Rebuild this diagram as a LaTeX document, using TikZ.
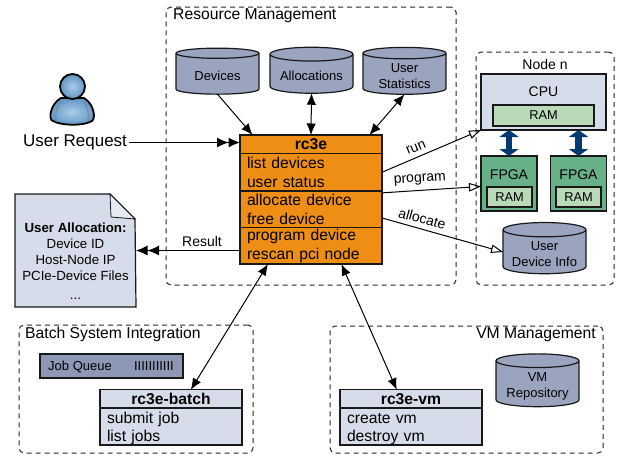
\documentclass[tikz,border=0pt]{standalone}
\usepackage{fontspec}
\setmainfont{Liberation Sans}
\usetikzlibrary{arrows.meta}
\usetikzlibrary{calc}
\usetikzlibrary{shapes.geometric}
\definecolor{dbblue}{HTML}{9AA4BF}
\definecolor{queueblue}{HTML}{8D97B6}
\definecolor{paleblue}{HTML}{D6DCE9}
\definecolor{rcorange}{HTML}{EE8E14}
\definecolor{fpgagreen}{HTML}{68B088}
\definecolor{ramgreen}{HTML}{BAD9B8}
\definecolor{linknavy}{HTML}{003A70}
\definecolor{userlight}{HTML}{A9CDE8}
\definecolor{userdark}{HTML}{5F94C4}
\tikzset{>={Latex[length=11.5pt,width=9.5pt]}}
\tikzset{
    big/.style={font=\fontsize{15.7}{18.5}\selectfont},
    small/.style={font=\fontsize{13}{16}\selectfont},
    edgetext/.style={font=\fontsize{14}{16}\selectfont, inner sep=0pt},
    group/.style={draw=black!85, dashed, dash pattern=on 5pt off 4pt, line width=1pt,
        rounded corners=5pt, inner sep=0pt, outer sep=0pt},
    box/.style={draw=black!90, line width=1.2pt, inner sep=0pt, outer sep=0pt},
    head/.style={box, big, minimum height=18.5pt, minimum width=142pt, font=\fontsize{15.7}{18.5}\selectfont\bfseries},
    part/.style={box, big, minimum width=142pt, text width=128pt, align=left, inner xsep=7pt},
    db/.style={cylinder, shape border rotate=90, aspect=0.22, draw=black!90, fill=dbblue,
        line width=1.2pt, small, align=center, inner sep=0pt, outer sep=0pt,
        minimum width=83pt, minimum height=46pt},
    ram/.style={box, fill=ramgreen, font=\fontsize{12.8}{15}\selectfont},
    fpga/.style={box, fill=fpgagreen, minimum width=56pt, minimum height=55pt},
    line/.style={line width=1pt},
    open/.style={-{Triangle[open,length=12pt,width=8.5pt]}, line width=1pt},
    twin/.style={-{Latex[length=11.5pt,width=10pt]Latex[length=11.5pt,width=10pt]}, line width=1pt},
    hw/.style={{Triangle[length=7pt,width=19pt]}-{Triangle[length=7pt,width=19pt]}, linknavy, line width=6.5pt},
}
\begin{document}
\begin{tikzpicture}[x=1pt,y=-1pt]
    \useasboundingbox (0,0) rectangle (620,458);
    %groups
    \node[group, minimum width=290pt, minimum height=278pt] (resource) at (311,146) {};
    \node[group, minimum width=138pt, minimum height=233pt] (noden) at (545,168.5) {};
    \node[group, minimum width=234pt, minimum height=128pt] (batch) at (136,389) {};
    \node[group, minimum width=273pt, minimum height=127pt] (vm) at (466.5,389.5) {};
    \node[big, anchor=west, inner sep=0pt] (resourceTitle) at (173,16) {Resource Management};
    \node[edgetext] (nodeTitle) at (545,64) {Node n};
    \node[big, anchor=west, inner sep=0pt] (batchTitle) at (25,334) {Batch System Integration};
    \node[big, anchor=east, inner sep=0pt] (vmTitle) at (596,335) {VM Management};
    %databases
    \node[db] (devices) at (217.5,74) {\rule{0pt}{13pt}Devices};
    \node[db] (allocations) at (311.5,74) {\rule{0pt}{13pt}Allocations};
    \node[db] (stats) at (404.5,74) {\rule{0pt}{13pt}User\\Statistics};
    \node[db] (info) at (544.5,252) {\rule{0pt}{13pt}User\\Device Info};
    \node[db] (repo) at (537.5,384) {\rule{0pt}{13pt}VM\\Repository};
    %rc3e
    \node[head, fill=rcorange] (rc3e) at (311,144.25) {rc3e};
    \node[part, fill=rcorange, minimum height=37.5pt] (rc3eList) at (311,172.25) {list devices\\user status};
    \node[part, fill=rcorange, minimum height=36.5pt] (rc3eAlloc) at (311,209.25) {allocate device\\free device};
    \node[part, fill=rcorange, minimum height=36.5pt] (rc3eProg) at (311,245.75) {program device\\rescan pci node};
    %node n
    \node[box, fill=paleblue, minimum width=125pt, minimum height=56pt] (cpu) at (543.5,102) {};
    \node[edgetext] (cpuText) at (543.5,92) {CPU};
    \node[ram, minimum width=101pt, minimum height=21pt] (cpuRam) at (543.5,115.5) {RAM};
    \node[fpga] (fpgaA) at (509,183.5) {};
    \node[fpga] (fpgaB) at (578.5,183.5) {};
    \node[edgetext] (fpgaAText) at (509,175) {FPGA};
    \node[edgetext] (fpgaBText) at (578.5,175) {FPGA};
    \node[ram, minimum width=45pt, minimum height=20pt] (fpgaARam) at (509.5,197) {RAM};
    \node[ram, minimum width=45pt, minimum height=20pt] (fpgaBRam) at (578.5,197) {RAM};
    \draw[hw] (fpgaA.north) -- (fpgaA.north |- cpu.south);
    \draw[hw] (fpgaB.north) -- (fpgaB.north |- cpu.south);
    %user
    \shadedraw[inner color=userlight, outer color=userdark, draw=black, line width=1.8pt]
        (61,98) .. controls (50,104) and (48,120) .. (53,121)
        .. controls (62,126) and (84,126) .. (92,121)
        .. controls (96,118) and (94,104) .. (84,98) -- cycle;
    \draw[gray, line width=0.7pt] (56,122) .. controls (55,114) and (56,108) .. (61,102);
    \draw[gray, line width=0.7pt] (88,122) .. controls (89,114) and (88,108) .. (84,102);
    \shadedraw[inner color=userlight, outer color=userdark, draw=black, line width=1.8pt]
        (72.5,86.5) circle (12.5);
    \node[font=\fontsize{17}{20}\selectfont, inner sep=0pt, outer sep=2pt] (request) at (75,142.5) {User Request};
    %document
    \node[small, minimum width=119pt, minimum height=111pt, inner sep=0pt, outer sep=1pt] (result) at (75.5,250.5) {};
    \path[draw=black!90, fill=paleblue, line width=1.2pt] (result.north west) -- ($(result.north east)+(-26,0)$)
        -- ($(result.north east)+(-1,25)$) -- (result.south east) -- (result.south west) -- cycle;
    \path[draw=black!90, fill=paleblue!60!white, line width=0.8pt] ($(result.north east)+(-26,0)$)
        -- ($(result.north east)+(-25,23)$) -- ($(result.north east)+(-1,25)$) -- cycle;
    \node[font=\fontsize{13.3}{16}\selectfont, align=center, inner sep=0pt] (resultText) at (75.5,261)
        {\textbf{User Allocation:}\\Device ID\\Host-Node IP\\PCIe-Device Files\\\rule{0pt}{18pt}...};
    %batch
    \node[box, fill=queueblue, minimum width=143pt, minimum height=24pt] (queue) at (111.5,366) {};
    \node[small, anchor=west, inner sep=0pt] (queueText) at (48,367) {Job Queue};
    \node[small, anchor=east, inner sep=0pt] (queueTicks) at (174,366) {IIIIIIIIIII};
    \node[head, fill=paleblue] (rcbatch) at (171,399) {rc3e-batch};
    \node[part, fill=paleblue, minimum height=37pt] (rcbatchList) at (171,426.5) {\rule{0pt}{15pt}submit job\\list jobs};
    %vm
    \node[head, fill=paleblue] (rcvm) at (411,399) {rc3e-vm};
    \node[part, fill=paleblue, minimum height=37pt] (rcvmList) at (411,426.5) {\rule{0pt}{15pt}create vm\\destroy vm};
    %connectors
    \draw[->, line] (devices.south) -- (rc3e.171);
    \draw[<->, line] (allocations.south) -- (rc3e.north);
    \draw[<->, line] (stats.south) -- (rc3e.9);
    \draw[twin] (request.east) -- (request.east -| rc3e.west);
    \draw[twin] (result.east -| rc3eProg.west) -- (result.east);
    \draw[<->, line] (rc3eProg.203) -- (rcbatch.25);
    \draw[<->, line] (rc3eProg.-31) -- (rcvm.147);
    \draw[open] (rc3eList.east) -- node[sloped, above=5pt, edgetext, pos=0.38] (runLabel) {run} (cpu.south west);
    \draw[open] (rc3eAlloc.13) -- node[sloped, above=5pt, edgetext, pos=0.39] (programLabel) {program} (fpgaA.186);
    \draw[open] (rc3eAlloc.-7) -- node[sloped, above=4.5pt, edgetext, pos=0.31] (allocateLabel) {allocate} (info.west);
    \node[edgetext] (resultLabel) at (202,241) {Result};
\end{tikzpicture}
\end{document}
